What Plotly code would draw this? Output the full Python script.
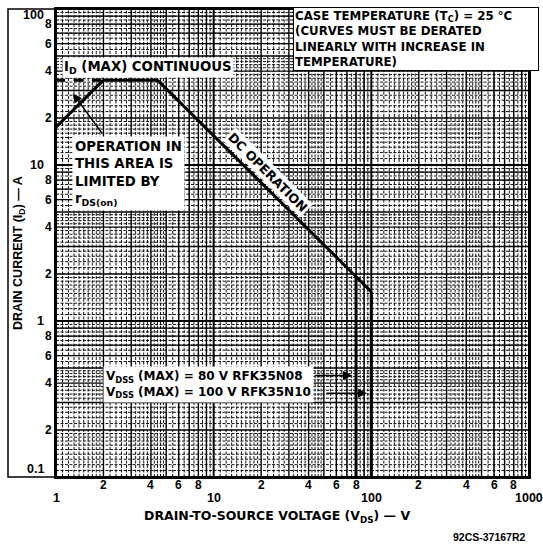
import numpy as np
import plotly.graph_objects as go

# ---------------- data ----------------
rds_v = [1, 2]              # r_DS(on) limited line
rds_i = [17.5, 35]
idmax_v = [2, 4.4]          # I_D(MAX) continuous
idmax_i = [35, 35]
idmax_ext_v = [1, 2]        # dashed continuation
idmax_ext_i = [35, 35]
dc_v = [4.4, 100]           # DC operation (power limit)
dc_i = [35, 1.54]
v80_v = [80, 80]            # V_DSS(max) RFK35N08
v80_i = [1.92, 0.1]
v100_v = [100, 100]         # V_DSS(max) RFK35N10
v100_i = [1.54, 0.1]

x_major_ticks = [1, 10, 100, 1000]
x_major_labels = ["1", "10", "100", "1000"]
x_minor_ticks = [2, 4, 6, 8, 20, 40, 60, 80, 200, 400, 600, 800]
x_minor_labels = ["2", "4", "6", "8"] * 3
y_major_ticks = [0.1, 1, 10, 100]
y_major_labels = ["0.1", "1", "10", "100"]
y_minor_ticks = [0.2, 0.4, 0.6, 0.8, 2, 4, 6, 8, 20, 40, 60, 80]
y_minor_labels = ["2", "4", "6", "8"] * 3

# ---------------- geometry ----------------
W, H = 543, 546
L, R, T, B = 56, 529, 7, 477
FONT = "Liberation Sans"
BOXFONT = "DejaVu Sans"


def pxx(x):
    return (x - L) / (R - L)


def pxy(y):
    return (B - y) / (B - T)


def ypix(v):
    return B - (np.log10(v) + 1) / 3 * (B - T)


fig = go.Figure()

# ---------------- graph-paper grid ----------------
fine, minor = [], []
for d in [1, 10, 100]:
    fine += [d * v for v in np.arange(1.1, 2.0, 0.1)]
    fine += [d * v for v in np.arange(2.2, 5.0, 0.2) if abs(v - 3) > 1e-6 and abs(v - 4) > 1e-6]
    fine += [d * v for v in np.arange(5.5, 10.0, 0.5)]
    minor += [d * v for v in range(2, 10)]
fine_y = [v / 10 for v in fine]
minor_y = [v / 10 for v in minor]


def vlines(vals):
    xs, ys = [], []
    for v in vals:
        xs += [v, v, None]
        ys += [0.1, 100, None]
    return xs, ys


def hlines(vals):
    xs, ys = [], []
    for v in vals:
        xs += [1, 1000, None]
        ys += [v, v, None]
    return xs, ys


for vals, f, kw in [
    (fine, vlines, dict(color="#111", width=1, dash="3px,1.5px")),
    (fine_y, hlines, dict(color="#111", width=1, dash="3px,1.5px")),
    (minor, vlines, dict(color="black", width=1.4)),
    (minor_y, hlines, dict(color="black", width=1.4)),
    (x_major_ticks, vlines, dict(color="black", width=2)),
    (y_major_ticks, hlines, dict(color="black", width=2)),
]:
    xs, ys = f(vals)
    fig.add_trace(go.Scatter(x=xs, y=ys, mode="lines", line=kw,
                             hoverinfo="skip", showlegend=False))

# ---------------- curves ----------------
for xs, ys, dash in [
    (rds_v, rds_i, "solid"),
    (idmax_v, idmax_i, "solid"),
    (idmax_ext_v, idmax_ext_i, "dash"),
    (dc_v, dc_i, "solid"),
    (v80_v, v80_i, "solid"),
    (v100_v, v100_i, "solid"),
]:
    fig.add_trace(go.Scatter(x=xs, y=ys, mode="lines",
                             line=dict(color="black", width=3, dash=dash),
                             showlegend=False, hoverinfo="skip"))

ann = []


def bf(size, fam=BOXFONT):
    return dict(family=fam, size=size, color="black", weight="bold")


# tick labels
for v, t in zip(x_major_ticks, x_major_labels):
    ann.append(dict(x=np.log10(v), xref="x", y=0, yref="paper", yshift=-21,
                    text=t, showarrow=False, xanchor="center", yanchor="middle",
                    font=bf(12.5, FONT)))
for v, t in zip(x_minor_ticks, x_minor_labels):
    ann.append(dict(x=np.log10(v), xref="x", y=0, yref="paper", yshift=-8,
                    text=t, showarrow=False, xanchor="center", yanchor="middle",
                    font=bf(12, FONT)))
for v, t in zip(y_major_ticks, y_major_labels):
    yy = min(max(ypix(v), 13), 469)
    ann.append(dict(x=pxx(46), xref="paper", y=pxy(yy), yref="paper",
                    text=t, showarrow=False, xanchor="right", yanchor="middle",
                    font=bf(12.5, FONT)))
for v, t in zip(y_minor_ticks, y_minor_labels):
    yy = ypix(v)
    ann.append(dict(x=pxx(54), xref="paper", y=pxy(yy), yref="paper",
                    text=t, showarrow=False, xanchor="right", yanchor="middle",
                    font=bf(12, FONT)))

# axis titles
ann.append(dict(x=pxx(19), y=pxy(252), xref="paper", yref="paper", textangle=-90,
                xanchor="center", yanchor="middle",
                text="DRAIN CURRENT (I<sub>D</sub>) — A", showarrow=False,
                font=bf(12.5, FONT)))
ann.append(dict(x=pxx(277), y=pxy(517), xref="paper", yref="paper",
                xanchor="center", yanchor="middle",
                text="DRAIN-TO-SOURCE VOLTAGE (V<sub>DS</sub>) — V", showarrow=False,
                font=bf(12.5, BOXFONT)))
ann.append(dict(x=pxx(528), y=pxy(537), xref="paper", yref="paper",
                xanchor="right", yanchor="middle",
                text="92CS-37167R2", showarrow=False, font=bf(10.5, FONT)))

# text boxes
ann.append(dict(x=pxx(293), y=pxy(5), xref="paper", yref="paper",
                xanchor="left", yanchor="top", align="left",
                text="CASE TEMPERATURE (T<sub>C</sub>) = 25 °C<br>(CURVES MUST BE DERATED<br>"
                     "LINEARLY WITH INCREASE IN<br>TEMPERATURE)",
                showarrow=False, bgcolor="white", bordercolor="black", borderwidth=1,
                borderpad=1, width=242, font=bf(11.8)))
ann.append(dict(x=pxx(62), y=pxy(76), xref="paper", yref="paper",
                xanchor="left", yanchor="bottom", align="left",
                text="I<sub>D</sub> (MAX) CONTINUOUS", showarrow=False,
                bgcolor="white", borderpad=1, font=bf(13.3)))
ann.append(dict(x=pxx(72), y=pxy(135), xref="paper", yref="paper",
                xanchor="left", yanchor="top", align="left",
                text="OPERATION IN<br>THIS AREA IS<br>LIMITED BY<br>r<sub>DS(on)</sub>",
                showarrow=False, bgcolor="white", borderpad=2, font=bf(13.3)))
ann.append(dict(x=pxx(268), y=pxy(171), xref="paper", yref="paper",
                xanchor="center", yanchor="middle",
                text="DC OPERATION", textangle=45, showarrow=False,
                bgcolor="white", borderpad=1, font=bf(12.6)))
ann.append(dict(x=pxx(103), y=pxy(384), xref="paper", yref="paper",
                xanchor="left", yanchor="middle", align="left",
                text="V<sub>DSS</sub> (MAX) = 80 V RFK35N08<br>V<sub>DSS</sub> (MAX) = 100 V RFK35N10",
                showarrow=False, bgcolor="white", borderpad=2, font=bf(12)))

# arrows
for tipx, tipy, ax, ay in [(352, 375, -38, 0), (367, 393, -42, 0), (73, 92, 30, 41)]:
    ann.append(dict(x=pxx(tipx), y=pxy(tipy), xref="paper", yref="paper",
                    text="", showarrow=True, ax=ax, ay=ay, arrowhead=2,
                    arrowsize=1.2, arrowwidth=1.5, arrowcolor="black"))

shapes = [dict(type="rect", xref="paper", yref="paper", x0=pxx(8), x1=1, y0=0, y1=1,
               line=dict(color="black", width=1.5), layer="above")]

axis_common = dict(type="log", showgrid=False, zeroline=False, showticklabels=False,
                   ticks="", showline=True, linecolor="black", linewidth=2, mirror=True)
fig.update_layout(
    width=W, height=H,
    margin=dict(l=L, r=W - R, t=T, b=H - B),
    paper_bgcolor="white", plot_bgcolor="white",
    xaxis=dict(range=[0, 3], **axis_common),
    yaxis=dict(range=[-1, 2], **axis_common),
    annotations=ann, shapes=shapes,
    font=dict(family=FONT, color="black"),
    showlegend=False,
)

fig.write_html("out.html", config={"displayModeBar": False},
               post_script="document.body.style.margin='0';document.body.style.padding='0';")
